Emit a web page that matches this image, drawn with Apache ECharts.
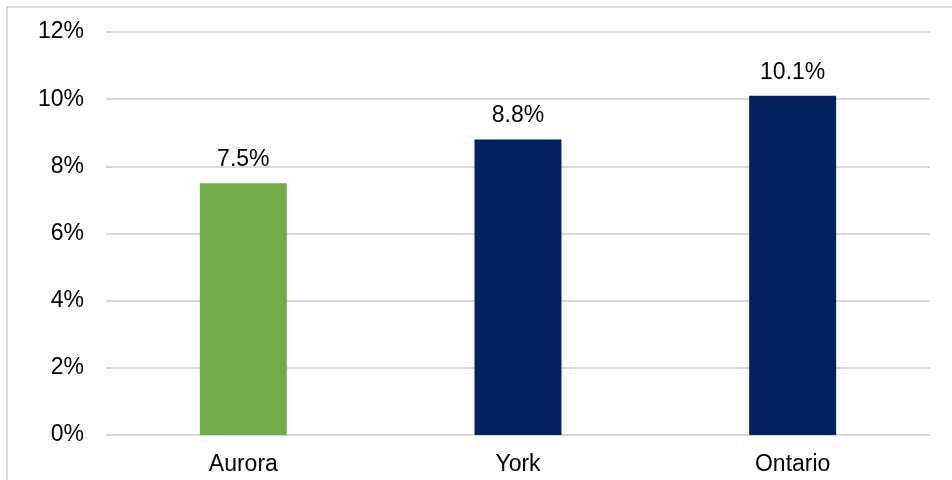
<!DOCTYPE html>
<html>
<head>
<meta charset="utf-8">
<script src="https://cdn.jsdelivr.net/npm/echarts@6/dist/echarts.min.js"></script>
<style>html,body{margin:0;padding:0;background:#fff}#c{width:952px;height:480px}</style>
</head>
<body>
<div id="c"></div>
<script>
var categories = ['Aurora', 'York', 'Ontario'];
var values = [7.5, 8.8, 10.1];
var barColors = ['#70AD47', '#002060', '#002060'];

var chart = echarts.init(document.getElementById('c'), null, {renderer: 'canvas'});
chart.setOption({
  animation: false,
  backgroundColor: '#fff',
  textStyle: {fontFamily: 'Liberation Sans, Arial, sans-serif'},
  graphic: [
    {type: 'polyline', shape: {points: [[7, 480], [7, 7], [952, 7]]}, style: {stroke: '#D9D9D9', lineWidth: 2, fill: null}, silent: true}
  ],
  grid: {left: 106, right: 22, top: 32, bottom: 45, containLabel: false},
  xAxis: {
    type: 'category',
    data: categories,
    axisLine: {show: true, lineStyle: {color: '#D9D9D9', width: 1}},
    axisTick: {show: false},
    axisLabel: {color: '#000', fontSize: 23, margin: 18, fontFamily: 'Liberation Sans'}
  },
  yAxis: {
    type: 'value',
    min: 0, max: 12, interval: 2,
    axisLine: {show: false},
    axisTick: {show: false},
    splitLine: {lineStyle: {color: '#D9D9D9', width: 2}},
    axisLabel: {color: '#000', fontSize: 23, margin: 22, formatter: '{value}%', fontFamily: 'Liberation Sans'}
  },
  series: [{
    type: 'bar',
    barWidth: 87,
    data: values.map(function (v, i) { return {value: v, itemStyle: {color: barColors[i]}}; }),
    label: {show: true, position: 'top', distance: 12, color: '#000', fontSize: 23, fontFamily: 'Liberation Sans',
      formatter: function (p) { return p.value.toFixed(1) + '%'; }}
  }]
});
</script>
</body>
</html>
